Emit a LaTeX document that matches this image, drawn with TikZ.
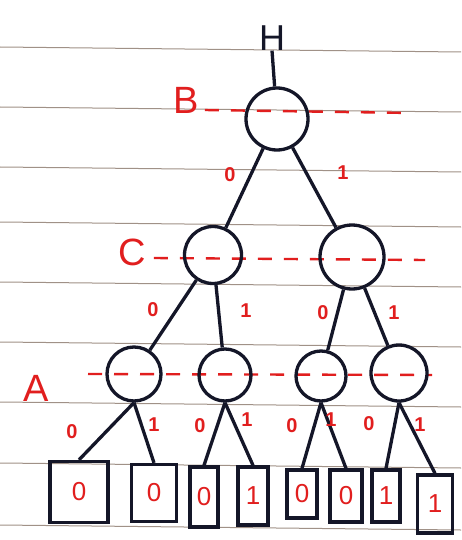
\documentclass[tikz,border=0pt]{standalone}
\usepackage{fontspec}
\setmainfont{Liberation Sans}
\definecolor{pen}{RGB}{20,22,40}
\definecolor{redpen}{RGB}{225,30,30}
\definecolor{ruled}{RGB}{160,145,135}
\begin{document}
\begin{tikzpicture}[x=1pt,y=-1pt,
  nd/.style={circle,draw=pen,line width=3.3pt,inner sep=0pt},
  leaf/.style={rectangle,draw=pen,line width=3.3pt,inner sep=0pt,text=redpen,font=\fontsize{26}{26}\selectfont},
  edge/.style={draw=pen,line width=3.3pt},
  lbl/.style={text=redpen,font=\fontsize{20}{20}\selectfont\bfseries,inner sep=0pt},
  var/.style={text=redpen,font=\fontsize{38}{38}\selectfont,inner sep=0pt},
  lvl/.style={draw=redpen,line width=2.4pt,dash pattern=on 14pt off 12pt},
  rule/.style={draw=ruled,line width=1pt}]
\useasboundingbox (0,0) rectangle (461,540);
\fill[white] (0,0) rectangle (461,540);
% ruled paper lines
\foreach \y in {47,107,167,222,282,342,402,463,525}
  \draw[rule] (0,\y) -- (461,\y+5);
% levels
\node[var] (vB) at (186,100) {B};
\node[var] (vC) at (132,252) {C};
\node[var] (vA) at (36,388) {A};
\coordinate (bE) at (412,113);
\coordinate (cE) at (425,260);
\coordinate (aE) at (432,375);
\draw[lvl] (vB.east) ++(6,10) -- (bE);
\draw[lvl] (vC.east) ++(8,6) -- (cE);
\draw[lvl] (88,374) -- (aE);
% nodes
\node[text=pen,font=\fontsize{36}{36}\selectfont,inner sep=0pt] (H) at (272,38) {H};
\node[nd,minimum size=62pt] (r) at (277,119) {};
\node[nd,minimum size=57pt] (c1) at (213,255) {};
\node[nd,minimum size=64pt] (c2) at (352,257) {};
\node[nd,minimum size=54pt] (a1) at (134,374) {};
\node[nd,minimum size=52pt] (a2) at (225,375) {};
\node[nd,minimum size=50pt] (a3) at (321,376) {};
\node[nd,minimum size=56pt] (a4) at (399,373) {};
% leaves
\node[leaf,minimum width=58pt,minimum height=61pt] (l1) at (79,492) {0};
\node[leaf,minimum width=45pt,minimum height=57pt] (l2) at (154,493) {0};
\node[leaf,minimum width=28pt,minimum height=60pt] (l3) at (204,497) {0};
\node[leaf,minimum width=30pt,minimum height=58pt] (l4) at (253,496) {1};
\node[leaf,minimum width=30pt,minimum height=48pt] (l5) at (302,494) {0};
\node[leaf,minimum width=32pt,minimum height=52pt] (l6) at (346,496) {0};
\node[leaf,minimum width=28pt,minimum height=52pt] (l7) at (386,496) {1};
\node[leaf,minimum width=35pt,minimum height=58pt] (l8) at (435,504) {1};
% edges
\draw[edge] (H.south) -- (r);
\draw[edge] (r) -- (c1);
\draw[edge] (r) -- (c2);
\draw[edge] (c1) -- (a1);
\draw[edge] (c1) -- (a2);
\draw[edge] (c2) -- (a3);
\draw[edge] (c2) -- (a4);
\draw[edge] (a1.south) -- (l1.north);
\draw[edge] (a1.south) -- (l2.north);
\draw[edge] (a2.south) -- (l3.north);
\draw[edge] (a2.south) -- (l4.north);
\draw[edge] (a3.south) -- (l5.north);
\draw[edge] (a3.south) -- (l6.north);
\draw[edge] (a4.south) -- (l7.north);
\draw[edge] (a4.south) -- (l8.north);
% edge labels
\node[lbl] (e1) at (230,175) {0};
\node[lbl] (e2) at (343,173) {1};
\node[lbl] (e3) at (153,310) {0};
\node[lbl] (e4) at (246,311) {1};
\node[lbl] (e5) at (323,313) {0};
\node[lbl] (e6) at (394,313) {1};
\node[lbl] (e7) at (72,432) {0};
\node[lbl] (e8) at (154,425) {1};
\node[lbl] (e9) at (200,426) {0};
\node[lbl] (e10) at (247,420) {1};
\node[lbl] (e11) at (292,426) {0};
\node[lbl] (e12) at (331,420) {1};
\node[lbl] (e13) at (369,424) {0};
\node[lbl] (e14) at (420,425) {1};
\end{tikzpicture}
\end{document}
